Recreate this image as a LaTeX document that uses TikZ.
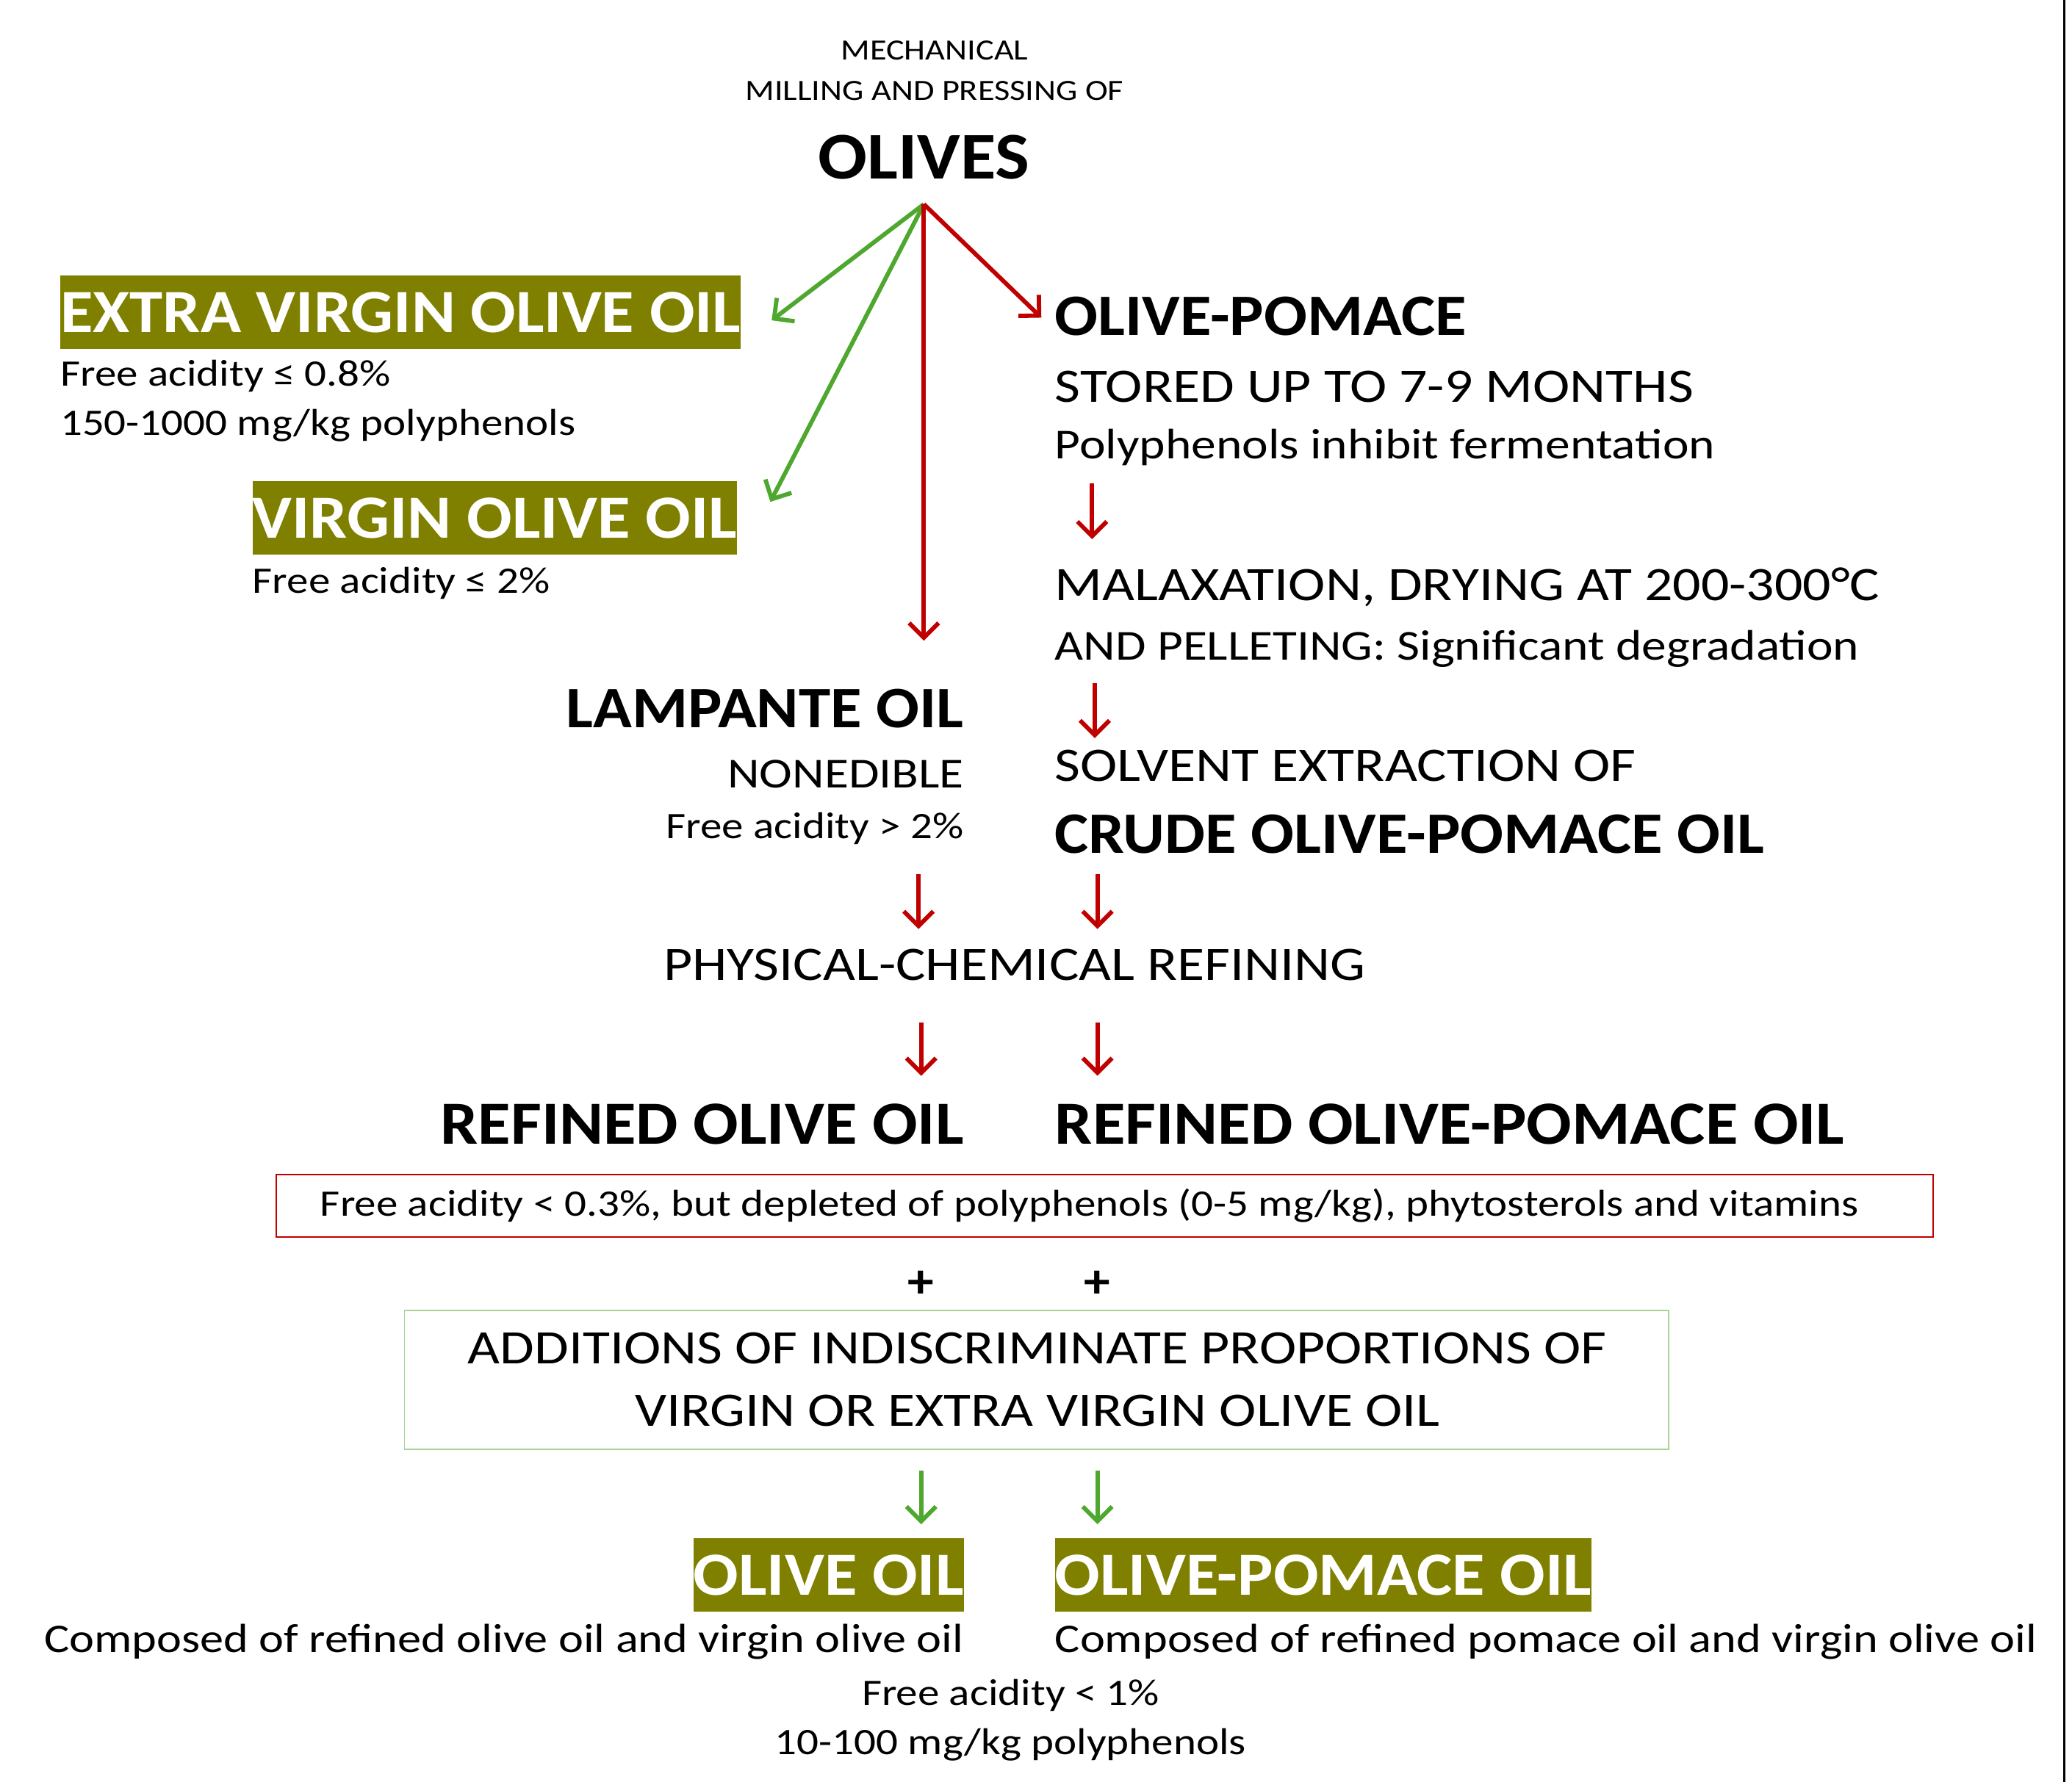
\documentclass[tikz,border=0pt]{standalone}
\usepackage{fontspec}
\setmainfont{Carlito}[FakeStretch=1.16,BoldFeatures={FakeStretch=1.09}]
\usetikzlibrary{arrows.meta}
\definecolor{olv}{HTML}{7F7F00}
\definecolor{rd}{HTML}{C00000}
\definecolor{gr}{HTML}{4EA72E}
\newcommand{\fs}[1]{\fontsize{#1}{#1}\selectfont}
\tikzset{
 ra/.style={draw=rd,line width=3.2pt,-{Straight Barb[length=11pt,width=22pt]}},
 ga/.style={draw=gr,line width=3.2pt,-{Straight Barb[length=11pt,width=22pt]}},
 hl/.style={fill=olv,text=white,font=\fs{46}\bfseries,inner xsep=0pt,inner ysep=0pt,minimum height=55pt,text depth=0pt},
 t/.style={inner sep=0pt}
}
\begin{document}
\begin{tikzpicture}[x=1pt,y=-1pt]
\useasboundingbox (0,0) rectangle (1552,1337);
\draw[line width=1.5pt] (1546,0) -- (1546,1335);
\node[t,font=\fs{22}] (m1) at (700,38) {MECHANICAL};
\node[t,font=\fs{22}] (m2) at (700,68) {MILLING AND PRESSING OF};
\node[t,font=\fs{50}\bfseries] (ol) at (692,118) {OLIVES};
\coordinate (o) at (692,153);
\node[hl,anchor=west] (evoo) at (45,234) {EXTRA VIRGIN OLIVE OIL};
\node[t,anchor=west,font=\fs{28}] (e1) at (45,282) {Free acidity ≤ 0.8\%};
\node[t,anchor=west,font=\fs{28}] (e2) at (45,319) {150-1000 mg/kg polyphenols};
\node[hl,anchor=west] (voo) at (189,388) {VIRGIN OLIVE OIL};
\node[t,anchor=west,font=\fs{28}] (v1) at (189,437) {Free acidity ≤ 2\%};
\coordinate (ea) at (578,240); \coordinate (va) at (577,376);
\coordinate (la) at (692,480); \coordinate (pa) at (780,238);
\draw[ga] (o) -- (ea); \draw[ga] (o) -- (va);
\draw[ra] (o) -- (la); \draw[ra] (o) -- (pa);
\node[t,anchor=west,font=\fs{44}\bfseries] (op) at (790,237) {OLIVE-POMACE};
\node[t,anchor=west,font=\fs{36}] (st) at (790,290) {STORED UP TO 7-9 MONTHS};
\node[t,anchor=west,font=\fs{32}] (pi) at (790,335) {Polyphenols inhibit fermentation};
\coordinate (a1s) at (818,362); \coordinate (a1e) at (818,404);
\draw[ra] (a1s) -- (a1e);
\node[t,anchor=west,font=\fs{36}] (mx) at (790,440) {MALAXATION, DRYING AT 200-300°C};
\node[t,anchor=west,font=\fs{32}] (pe) at (790,486) {AND PELLETING: Significant degradation};
\coordinate (a2s) at (820,512); \coordinate (a2e) at (820,553);
\draw[ra] (a2s) -- (a2e);
\node[t,anchor=west,font=\fs{36}] (so) at (790,574) {SOLVENT EXTRACTION OF};
\node[t,anchor=west,font=\fs{44}\bfseries] (cr) at (790,625) {CRUDE OLIVE-POMACE OIL};
\node[t,anchor=east,font=\fs{44}\bfseries] (lo) at (722,531) {LAMPANTE OIL};
\node[t,anchor=east,font=\fs{32}] (ne) at (722,580) {NONEDIBLE};
\node[t,anchor=east,font=\fs{28}] (lf) at (722,621) {Free acidity > 2\%};
\coordinate (b1s) at (688,655); \coordinate (b1e) at (688,696);
\coordinate (b2s) at (822,655); \coordinate (b2e) at (822,696);
\draw[ra] (b1s) -- (b1e); \draw[ra] (b2s) -- (b2e);
\node[t,font=\fs{36}] (pc) at (760,723) {PHYSICAL-CHEMICAL REFINING};
\coordinate (c1s) at (690,766); \coordinate (c1e) at (690,806);
\coordinate (c2s) at (822,766); \coordinate (c2e) at (822,806);
\draw[ra] (c1s) -- (c1e); \draw[ra] (c2s) -- (c2e);
\node[t,anchor=east,font=\fs{46}\bfseries] (ro) at (722,842) {REFINED OLIVE OIL};
\node[t,anchor=west,font=\fs{46}\bfseries] (rp) at (790,842) {REFINED OLIVE-POMACE OIL};
\draw[rd,line width=1pt] (207,880) rectangle (1448,927);
\node[t,font=\fs{28}] (rb) at (816,903) {Free acidity < 0.3\%, but depleted of polyphenols (0-5 mg/kg), phytosterols and vitamins};
\node[t,font=\fs{36}\bfseries] (p1) at (690,962) {+};
\node[t,font=\fs{36}\bfseries] (p2) at (822,962) {+};
\draw[gr!50,line width=1pt] (303,982) rectangle (1250,1086);
\node[t,font=\fs{36}] (ad1) at (777,1010) {ADDITIONS OF INDISCRIMINATE PROPORTIONS OF};
\node[t,font=\fs{36}] (ad2) at (777,1057) {VIRGIN OR EXTRA VIRGIN OLIVE OIL};
\coordinate (d1s) at (690,1102); \coordinate (d1e) at (690,1142);
\coordinate (d2s) at (822,1102); \coordinate (d2e) at (822,1142);
\draw[ga] (d1s) -- (d1e); \draw[ga] (d2s) -- (d2e);
\node[hl,anchor=east] (oo) at (722,1180) {OLIVE OIL};
\node[hl,anchor=west] (opo) at (790,1180) {OLIVE-POMACE OIL};
\node[t,anchor=east,font=\fs{30.5}] (c1) at (722,1230) {Composed of refined olive oil and virgin olive oil};
\node[t,anchor=west,font=\fs{30.5}] (c2) at (790,1230) {Composed of refined pomace oil and virgin olive oil};
\node[t,font=\fs{28}] (f1) at (757,1270) {Free acidity < 1\%};
\node[t,font=\fs{28}] (f2) at (757,1307) {10-100 mg/kg polyphenols};
\end{tikzpicture}
\end{document}
